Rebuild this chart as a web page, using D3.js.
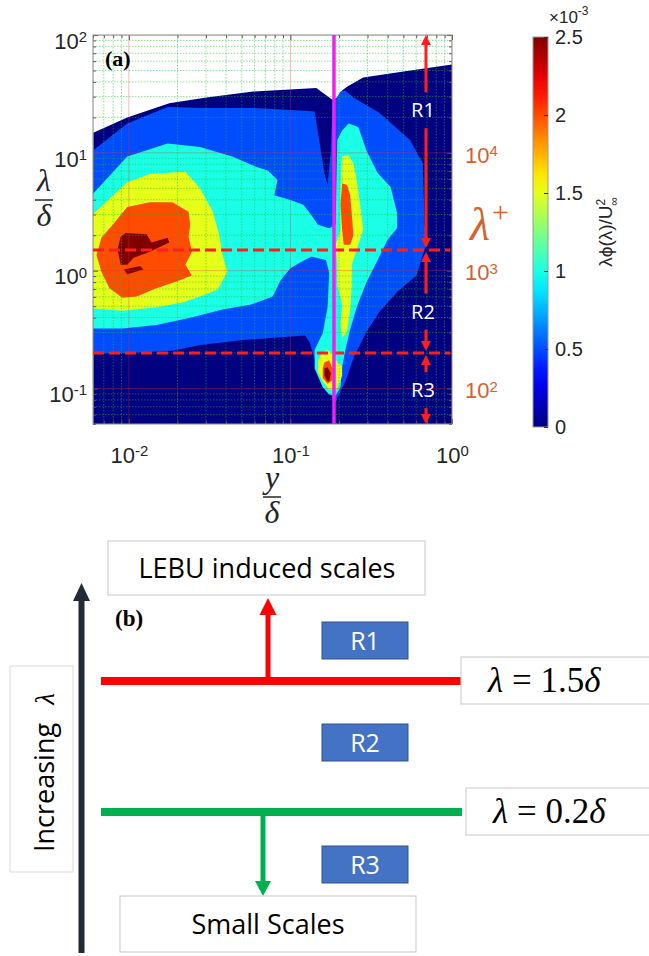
<!DOCTYPE html>
<html>
<head>
<meta charset="utf-8">
<script src="https://cdn.jsdelivr.net/npm/d3@7"></script>
<style>
  body { margin: 0; background: #fff; }
  svg { display: block; }
</style>
</head>
<body>
<div id="chart"></div>
<script>
// filled contour bands of λφ(λ)/U∞² (×10^-3)
// every polygon is a list of [log10(y/δ), log10(λ/δ)] pairs
const levels = [0, 0.5, 1.0, 1.5, 2.0, 2.5];

// top edge of the lowest band (everything under it is level 0)
const envelope = [
	[-2.22, 1.17], [-2.01, 1.30], [-1.75, 1.42], [-1.52, 1.47], [-1.23, 1.52],
	[-0.84, 1.55], [-0.80, 1.51], [-0.74, 1.45], [-0.71, 1.47], [-0.68, 1.53],
	[-0.65, 1.56], [-0.55, 1.64], [-0.30, 1.69], [0, 1.75]
];

const band05 = [[
	[-2.23, 1.01], [-2.01, 1.25], [-1.76, 1.39], [-1.52, 1.38], [-1.23, 1.38],
	[-0.94, 1.36], [-0.85, 1.35], [-0.79, 0.83], [-0.77, 0.73], [-0.75, 1.02],
	[-0.74, 1.41], [-0.69, 1.52], [-0.66, 1.53], [-0.61, 1.47], [-0.45, 1.34],
	[-0.26, 1.11], [-0.18, 0.91], [-0.17, 0.39], [-0.15, 0.26], [-0.22, -0.04],
	[-0.34, -0.18], [-0.45, -0.35], [-0.53, -0.52], [-0.61, -0.74], [-0.66, -0.94],
	[-0.71, -1.08], [-0.72, -1.12], [-0.76, -1.03], [-0.84, -0.80], [-0.88, -0.61],
	[-0.91, -0.55], [-1.31, -0.59], [-1.56, -0.63], [-1.73, -0.68], [-2.04, -0.70],
	[-2.23, -0.70]
]];

const band10 = [[
	[-2.23, 0.64], [-2.01, 0.97], [-1.76, 1.08], [-1.56, 1.05], [-1.36, 0.97],
	[-1.21, 0.88], [-1.14, 0.85], [-1.08, 0.77], [-1.10, 0.64], [-1.00, 0.60],
	[-0.92, 0.56], [-0.87, 0.47], [-0.83, 0.39], [-0.76, 0.36], [-0.72, 0.39],
	[-0.71, 1.11], [-0.68, 1.19], [-0.64, 1.25], [-0.58, 1.22], [-0.53, 1.02],
	[-0.46, 0.83], [-0.38, 0.71], [-0.34, 0.49], [-0.34, 0.36], [-0.40, 0.26],
	[-0.46, 0.09], [-0.53, -0.10], [-0.59, -0.31], [-0.63, -0.50], [-0.66, -0.67],
	[-0.68, -0.82], [-0.69, -0.99], [-0.72, -1.06], [-0.76, -1.05], [-0.80, -0.99],
	[-0.85, -0.83], [-0.85, -0.67], [-0.80, -0.53], [-0.77, -0.31], [-0.76, -0.02],
	[-0.78, 0.09], [-0.87, 0.12], [-0.94, 0.07], [-1.00, 0.02], [-1.06, -0.08],
	[-1.11, -0.22], [-1.25, -0.29], [-1.42, -0.33], [-1.62, -0.40], [-1.83, -0.46],
	[-2.04, -0.49], [-2.23, -0.49]
]];

const band15 = [
	[
		[-2.23, 0.47], [-2.01, 0.75], [-1.87, 0.82], [-1.65, 0.84], [-1.56, 0.70],
		[-1.48, 0.50], [-1.44, 0.30], [-1.42, 0.13], [-1.39, -0.01], [-1.45, -0.16],
		[-1.56, -0.22], [-1.67, -0.27], [-1.83, -0.31], [-2.04, -0.34], [-2.23, -0.32]
	],
	[
		[-0.68, 0.97], [-0.64, 0.98], [-0.61, 0.91], [-0.59, 0.77], [-0.57, 0.57],
		[-0.55, 0.35], [-0.58, 0.22], [-0.62, 0.05], [-0.62, -0.12], [-0.63, -0.32],
		[-0.65, -0.52], [-0.68, -0.57], [-0.69, -0.46], [-0.68, -0.29], [-0.71, -0.12],
		[-0.71, 0.05], [-0.72, 0.22], [-0.69, 0.35], [-0.69, 0.69]
	],
	[
		[-0.80, -0.69], [-0.77, -0.67], [-0.73, -0.72], [-0.71, -0.78], [-0.68, -0.81],
		[-0.68, -0.89], [-0.71, -1.00], [-0.76, -1.01], [-0.80, -0.94], [-0.83, -0.86],
		[-0.83, -0.76]
	]
];

const band20 = [
	[
		[-2.10, 0.39], [-2.01, 0.54], [-1.87, 0.58], [-1.73, 0.58], [-1.63, 0.50],
		[-1.62, 0.39], [-1.63, 0.29], [-1.61, 0.16], [-1.65, 0.05], [-1.61, -0.04],
		[-1.70, -0.09], [-1.83, -0.15], [-1.95, -0.22], [-2.04, -0.23], [-2.12, -0.15],
		[-2.17, -0.01], [-2.20, 0.13], [-2.17, 0.28]
	],
	[
		[-0.68, 0.74], [-0.65, 0.73], [-0.63, 0.64], [-0.62, 0.47], [-0.61, 0.30],
		[-0.63, 0.22], [-0.67, 0.22], [-0.68, 0.35], [-0.69, 0.56]
	],
	[
		[-0.79, -0.78], [-0.76, -0.76], [-0.74, -0.83], [-0.74, -0.93], [-0.77, -0.96],
		[-0.80, -0.91], [-0.80, -0.83]
	]
];

const band25 = [
	[
		[-2.05, 0.29], [-2.02, 0.32], [-1.89, 0.31], [-1.86, 0.24], [-1.76, 0.28],
		[-1.75, 0.24], [-1.87, 0.16], [-1.97, 0.11], [-2.01, 0.05], [-2.05, 0.05],
		[-2.07, 0.18]
	],
	[[-2.03, 0.01], [-1.93, 0.04], [-1.91, 0.01], [-2.01, -0.03]],
	[
		[-0.79, -0.83], [-0.77, -0.82], [-0.75, -0.87], [-0.76, -0.94], [-0.77, -0.94],
		[-0.79, -0.89]
	]
];

const bands = [band05, band10, band15, band20, band25];

// axes
const xDomain = [0.006, 1];
const yDomain = [0.05, 100];
const xTicks = [0.01, 0.1, 1];
const yTicks = [0.1, 1, 10, 100];
const plusTicks = [100, 1000, 10000];
const deltaPlus = 1000; // λ+ = 1000 λ/δ
const cbarTicks = [0, 0.5, 1, 1.5, 2, 2.5];

// annotations
const thresholds = [1.5, 0.2];        // λ/δ of the dashed lines
const lebuPos = 0.186;                // y/δ of the magenta line
const regionNames = ["R1", "R2", "R3"];
const regionBounds = [100, 1.5, 0.2, 0.05];
const regionLabelAt = [23, 0.45, 0.097];
const arrowPos = 0.69;                // y/δ of the region arrows


// jet colormap as used by matlab
function jet(t) {
	let c = v => Math.max(0, Math.min(1, v)) * 255;
	return d3.rgb(c(1.5 - Math.abs(4 * t - 3)), c(1.5 - Math.abs(4 * t - 2)), c(1.5 - Math.abs(4 * t - 1))).formatHex();
}

const sans = "'Liberation Sans', Arial, sans-serif";
const serif = "'Liberation Serif', 'Times New Roman', serif";
const calibri = "'Open Sans', sans-serif";

let svg = d3.select("#chart")
	.append("svg")
	.attr("width", 649)
	.attr("height", 956);

let margin = { left: 93, top: 35, right: 452, bottom: 424 };

let x = d3.scaleLog().domain(xDomain).range([margin.left, margin.right]);
let y = d3.scaleLog().domain(yDomain).range([margin.bottom, margin.top]);
let yPlus = d3.scaleLog().domain(yDomain.map(v => v * deltaPlus)).range(y.range());

svg.append("defs").append("clipPath")
	.attr("id", "plotClip")
	.append("rect")
	.attr("x", margin.left)
	.attr("y", margin.top)
	.attr("width", margin.right - margin.left)
	.attr("height", margin.bottom - margin.top);

let plot = svg.append("g").attr("clip-path", "url(#plotClip)");

// lowest band
let area = d3.area()
	.x(d => x(10 ** d[0]))
	.y0(margin.bottom)
	.y1(d => y(10 ** d[1]));

plot.append("path")
	.attr("d", area(envelope))
	.attr("fill", jet(levels[0] / 2.5));

let poly = d3.line()
	.x(d => x(10 ** d[0]))
	.y(d => y(10 ** d[1]))
	.curve(d3.curveLinearClosed);

bands.forEach(function (polys, i) {
	plot.append("g")
		.selectAll("path")
		.data(polys)
		.enter().append("path")
		.attr("d", poly)
		.attr("fill", jet(levels[i + 1] / 2.5));
});

// grid lines
function isDecade(v) {
	let l = Math.log10(v);
	return Math.abs(l - Math.round(l)) < 1e-6;
}
let xMinor = x.ticks().filter(v => !isDecade(v));
let yMinor = y.ticks().filter(v => !isDecade(v));

let grid = plot.append("g");
grid.selectAll(".gx").data(xMinor).enter().append("line")
	.attr("x1", d => x(d)).attr("x2", d => x(d))
	.attr("y1", margin.top).attr("y2", margin.bottom)
	.attr("stroke", "#20c030").attr("stroke-opacity", 0.5)
	.attr("stroke-dasharray", "1.5,1.5");
grid.selectAll(".gy").data(yMinor).enter().append("line")
	.attr("y1", d => y(d)).attr("y2", d => y(d))
	.attr("x1", margin.left).attr("x2", margin.right)
	.attr("stroke", "#20c030").attr("stroke-opacity", 0.5)
	.attr("stroke-dasharray", "1.5,1.5");
grid.selectAll(".mx").data(xTicks).enter().append("line")
	.attr("x1", d => x(d)).attr("x2", d => x(d))
	.attr("y1", margin.top).attr("y2", margin.bottom)
	.attr("stroke", "#e03030").attr("stroke-opacity", 0.35);
grid.selectAll(".my").data(yTicks).enter().append("line")
	.attr("y1", d => y(d)).attr("y2", d => y(d))
	.attr("x1", margin.left).attr("x2", margin.right)
	.attr("stroke", "#e03030").attr("stroke-opacity", 0.35);

// frame and inward ticks on all four sides
function ticksOn(axis, tr, vals, size) {
	svg.append("g")
		.attr("transform", tr)
		.call(axis.tickValues(vals).tickSize(-size).tickSizeOuter(0).tickFormat(""))
		.call(g => g.select(".domain").remove())
		.selectAll("line").attr("stroke", "#555");
}
ticksOn(d3.axisLeft(y), `translate(${margin.left},0)`, yMinor, 3);
ticksOn(d3.axisLeft(y), `translate(${margin.left},0)`, yTicks, 5);
ticksOn(d3.axisRight(y), `translate(${margin.right},0)`, yMinor, 3);
ticksOn(d3.axisRight(y), `translate(${margin.right},0)`, yTicks, 5);
ticksOn(d3.axisBottom(x), `translate(0,${margin.bottom})`, xMinor, 3);
ticksOn(d3.axisBottom(x), `translate(0,${margin.bottom})`, xTicks, 5);
ticksOn(d3.axisTop(x), `translate(0,${margin.top})`, xMinor, 3);
ticksOn(d3.axisTop(x), `translate(0,${margin.top})`, xTicks, 5);

svg.append("rect")
	.attr("x", margin.left)
	.attr("y", margin.top)
	.attr("width", margin.right - margin.left)
	.attr("height", margin.bottom - margin.top)
	.attr("fill", "none")
	.attr("stroke", "#8c8c8c");

// power of ten labels
function powLabel(text, d) {
	let e = Math.round(Math.log10(d));
	text.text(null);
	text.append("tspan").text("10");
	text.append("tspan").attr("dy", "-0.45em").attr("font-size", "0.68em").text(e);
}

svg.append("g")
	.attr("transform", `translate(0,${margin.bottom})`)
	.call(d3.axisBottom(x).tickValues(xTicks).tickSize(0).tickPadding(23))
	.call(g => g.select(".domain").remove())
	.selectAll("text")
	.attr("font-family", sans).attr("font-size", 22).attr("fill", "#262626")
	.each(function (d) { powLabel(d3.select(this), d); });

svg.append("g")
	.attr("transform", `translate(${margin.left},0)`)
	.call(d3.axisLeft(y).tickValues(yTicks).tickSize(0).tickPadding(6))
	.call(g => g.select(".domain").remove())
	.selectAll("text")
	.attr("font-family", sans).attr("font-size", 22).attr("fill", "#262626")
	.attr("dy", "0.6em")
	.each(function (d) { powLabel(d3.select(this), d); });

// λ+ labels on the right
svg.append("g")
	.attr("transform", "translate(460,0)")
	.call(d3.axisRight(yPlus).tickValues(plusTicks).tickSize(0).tickPadding(5))
	.call(g => g.select(".domain").remove())
	.selectAll("text")
	.attr("font-family", sans).attr("font-size", 22).attr("fill", "#d6612b")
	.attr("dy", "0.42em")
	.each(function (d) { powLabel(d3.select(this), d); });

let lp = svg.append("text")
	.attr("x", 470)
	.attr("y", 240)
	.attr("font-family", serif)
	.attr("font-style", "italic")
	.attr("font-size", 46)
	.attr("fill", "#d6612b");
lp.append("tspan").text("λ");
lp.append("tspan").attr("dy", -18).attr("dx", 2).attr("font-size", 30).attr("font-style", "normal").text("+");

// axis titles
function fraction(cx, cy, top, bottom, half) {
	let g = svg.append("g")
		.attr("font-family", serif)
		.attr("font-style", "italic")
		.attr("font-size", 32)
		.attr("fill", "#262626")
		.attr("text-anchor", "middle");
	g.append("text").attr("x", cx).attr("y", cy - 9).text(top);
	g.append("line")
		.attr("x1", cx - half).attr("x2", cx + half)
		.attr("y1", cy).attr("y2", cy)
		.attr("stroke", "#262626").attr("stroke-width", 1.5);
	g.append("text").attr("x", cx).attr("y", cy + 26).text(bottom);
}
fraction(44, 200, "λ", "δ", 9);
fraction(272, 497, "y", "δ", 9);

svg.append("text")
	.attr("x", 105)
	.attr("y", 66)
	.attr("font-family", serif)
	.attr("font-weight", "bold")
	.attr("font-size", 22)
	.text("(a)");

// dashed threshold lines
svg.append("g")
	.selectAll("line")
	.data(thresholds)
	.enter().append("line")
	.attr("x1", margin.left).attr("x2", margin.right - 2)
	.attr("y1", d => y(d)).attr("y2", d => y(d))
	.attr("stroke", "#ff1e1e")
	.attr("stroke-width", 3)
	.attr("stroke-dasharray", "11,5");

// LEBU position
svg.append("line")
	.attr("x1", x(lebuPos)).attr("x2", x(lebuPos))
	.attr("y1", margin.top).attr("y2", margin.bottom)
	.attr("stroke", "#f21ef2")
	.attr("stroke-width", 3.5);

// region arrows
function head(g, cx, tip, dir, w, h, color) {
	g.append("path")
		.attr("d", `M${cx},${tip}L${cx - w / 2},${tip - dir * h}L${cx + w / 2},${tip - dir * h}Z`)
		.attr("fill", color);
}

let arrows = svg.append("g");
let ax = x(arrowPos);
regionNames.forEach(function (name, i) {
	let top = y(regionBounds[i]), bot = y(regionBounds[i + 1]), mid = y(regionLabelAt[i]);
	if (i > 0) top += 2;
	if (i < regionNames.length - 1) bot -= 2;
	arrows.append("line")
		.attr("x1", ax).attr("x2", ax).attr("y1", top + 8).attr("y2", mid - 18)
		.attr("stroke", "#ff1e1e").attr("stroke-width", 3);
	arrows.append("line")
		.attr("x1", ax).attr("x2", ax).attr("y1", mid + 18).attr("y2", bot - 8)
		.attr("stroke", "#ff1e1e").attr("stroke-width", 3);
	head(arrows, ax, top, -1, 10, 10, "#ff1e1e");
	head(arrows, ax, bot, 1, 10, 10, "#ff1e1e");
	arrows.append("text")
		.attr("x", ax - 3).attr("y", mid)
		.attr("dy", "0.36em")
		.attr("text-anchor", "middle")
		.attr("font-family", calibri)
		.attr("font-size", 20)
		.attr("fill", "#fff")
		.text(name);
});

// colorbar
let cScale = d3.scaleLinear().domain([0, 2.5]).range([427, 37]);
let grad = svg.select("defs").append("linearGradient")
	.attr("id", "jetGrad")
	.attr("x1", 0).attr("y1", 1).attr("x2", 0).attr("y2", 0);
grad.selectAll("stop")
	.data(d3.range(0, 1.0001, 0.05))
	.enter().append("stop")
	.attr("offset", d => d)
	.attr("stop-color", d => jet(d));

svg.append("rect")
	.attr("x", 533).attr("y", cScale(2.5))
	.attr("width", 15).attr("height", cScale(0) - cScale(2.5))
	.attr("fill", "url(#jetGrad)")
	.attr("stroke", "#999");

svg.append("g")
	.attr("transform", "translate(548,0)")
	.call(d3.axisRight(cScale).tickValues(cbarTicks).tickSize(-4).tickSizeOuter(0).tickPadding(7).tickFormat(d3.format("~g")))
	.call(g => g.select(".domain").remove())
	.call(g => g.selectAll("line").attr("stroke", "#333"))
	.selectAll("text")
	.attr("font-family", sans).attr("font-size", 20).attr("fill", "#262626");

let mult = svg.append("text")
	.attr("x", 549).attr("y", 23)
	.attr("font-family", sans).attr("font-size", 17).attr("fill", "#262626");
mult.append("tspan").text("×10");
mult.append("tspan").attr("dy", -8).attr("font-size", 12).text("-3");

let cl = svg.append("text")
	.attr("transform", "translate(612,232) rotate(-90)")
	.attr("text-anchor", "middle")
	.attr("font-family", sans).attr("font-size", 19).attr("fill", "#262626");
cl.append("tspan").text("λϕ(λ)/U");
cl.append("tspan").attr("dy", -7).attr("font-size", 12).text("2");
cl.append("tspan").attr("dx", -7).attr("dy", 13).attr("font-size", 12).text("∞");


// ---- panel (b): schematic of the scale regions ----
let b = svg.append("g");

function box(x0, y0, w, h) {
	b.append("rect")
		.attr("x", x0).attr("y", y0).attr("width", w).attr("height", h)
		.attr("fill", "#fff").attr("stroke", "#d0d0d0").attr("stroke-width", 1.2);
}

box(108, 541, 317, 54);
b.append("text")
	.attr("x", 267).attr("y", 578)
	.attr("text-anchor", "middle")
	.attr("font-family", calibri).attr("font-size", 27)
	.text("LEBU induced scales");

// increasing λ axis
b.append("rect")
	.attr("x", 10).attr("y", 666).attr("width", 63).attr("height", 206)
	.attr("fill", "none").attr("stroke", "#d9d9d9");
let inc = b.append("text")
	.attr("transform", "translate(54,852) rotate(-90)")
	.attr("font-family", calibri).attr("font-size", 27);
inc.append("tspan").text("Increasing");
inc.append("tspan").attr("dx", 18).attr("font-family", serif).attr("font-style", "italic").text("λ");

b.append("line")
	.attr("x1", 81.5).attr("x2", 81.5).attr("y1", 598).attr("y2", 953)
	.attr("stroke", "#222a35").attr("stroke-width", 6);
head(b, 81.5, 583, -1, 17, 18, "#222a35");

b.append("text")
	.attr("x", 115).attr("y", 626)
	.attr("font-family", serif).attr("font-weight", "bold").attr("font-size", 23)
	.text("(b)");

// threshold lines with their arrows
let lineColors = ["#ff0000", "#00b050"];
let lineY = [681, 812];
thresholds.forEach(function (t, i) {
	b.append("line")
		.attr("x1", 101).attr("x2", 462).attr("y1", lineY[i]).attr("y2", lineY[i])
		.attr("stroke", lineColors[i]).attr("stroke-width", 8);
	let bx = i === 0 ? 461 : 466;
	box(bx, lineY[i] - 24, 200, 47);
	let lab = b.append("text")
		.attr("x", bx + 27).attr("y", lineY[i] + 11)
		.attr("font-family", serif).attr("font-size", 35);
	lab.append("tspan").attr("font-style", "italic").text("λ");
	lab.append("tspan").text(" = " + t);
	lab.append("tspan").attr("font-style", "italic").text("δ");
});

b.append("line")
	.attr("x1", 268).attr("x2", 268).attr("y1", 681).attr("y2", 612)
	.attr("stroke", "#ff0000").attr("stroke-width", 5);
head(b, 268, 598, -1, 17, 17, "#ff0000");

b.append("line")
	.attr("x1", 263).attr("x2", 263).attr("y1", 812).attr("y2", 884)
	.attr("stroke", "#00b050").attr("stroke-width", 5);
head(b, 263, 896, 1, 16, 15, "#00b050");

// region boxes
let regionBoxY = [622, 724, 846];
regionNames.forEach(function (name, i) {
	b.append("rect")
		.attr("x", 322).attr("y", regionBoxY[i]).attr("width", 86).attr("height", 37)
		.attr("fill", "#4472c4").attr("stroke", "#2f528f");
	b.append("text")
		.attr("x", 365).attr("y", regionBoxY[i] + 18.5)
		.attr("dy", "0.36em")
		.attr("text-anchor", "middle")
		.attr("font-family", calibri).attr("font-size", 25).attr("fill", "#fff")
		.text(name);
});

box(120, 896, 296, 56);
b.append("text")
	.attr("x", 268).attr("y", 934)
	.attr("text-anchor", "middle")
	.attr("font-family", calibri).attr("font-size", 27)
	.text("Small Scales");
</script>
</body>
</html>
